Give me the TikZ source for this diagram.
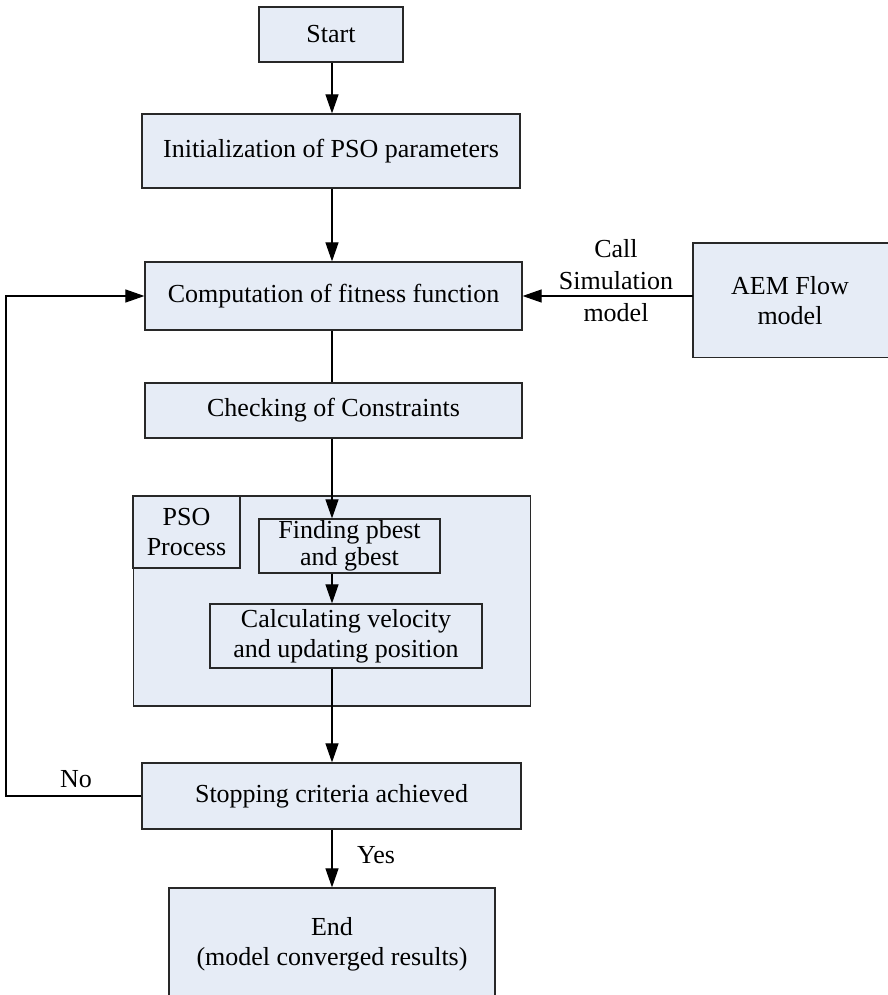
\documentclass[tikz,border=0pt]{standalone}
\usepackage{fontspec}
\setmainfont{Liberation Serif}
\usetikzlibrary{arrows.meta}
\definecolor{boxfill}{RGB}{230,236,246}
\definecolor{boxline}{RGB}{40,40,40}
\tikzset{
  flowbox/.style={draw=boxline, line width=1.2pt, fill=boxfill, align=center,
    inner sep=0pt, font=\fontsize{26}{30}\selectfont},
  link/.style={draw=black, line width=1.1pt, -{Triangle[length=19pt,width=13pt]}},
  plain/.style={draw=black, line width=1.1pt},
  lbl/.style={font=\fontsize{26}{32}\selectfont, align=center, inner sep=0pt}
}
\begin{document}
\begin{tikzpicture}[x=1pt,y=-1pt]
\useasboundingbox (0,0) rectangle (888,995);

% main column of steps
\node[flowbox, minimum width=144pt, minimum height=55pt] (start) at (331,34.5) {Start};
\node[flowbox, minimum width=378pt, minimum height=74pt] (init) at (331,151) {Initialization of PSO parameters};
\node[flowbox, minimum width=377pt, minimum height=68pt] (fit) at (333.5,296) {Computation of fitness function};
\node[flowbox, minimum width=377pt, minimum height=55pt] (check) at (333.5,410.5) {Checking of Constraints};

% external simulation model (runs past the right edge)
\path[draw=boxline, line width=1.2pt, fill=boxfill] (900,243) -- (693,243) -- (693,357.5) -- (900,357.5);
\node[lbl, font=\fontsize{26}{30}\selectfont] (aem) at (790,301) {AEM Flow\\model};
\coordinate (aemw) at (693,296);

% PSO process group
\node[flowbox, minimum width=397.5pt, minimum height=210pt] (pso) at (332,601) {};
\node[flowbox, minimum width=107pt, minimum height=72pt] (psolbl) at (186.5,532) {PSO\\Process};
\node[flowbox, minimum width=181pt, minimum height=54pt, font=\fontsize{26}{27}\selectfont] (find) at (349.5,546) {Finding pbest\\and gbest};
\node[flowbox, minimum width=272pt, minimum height=64pt] (calc) at (346,636) {Calculating velocity\\and updating position};

\node[flowbox, minimum width=379pt, minimum height=66pt] (stop) at (331.5,796) {Stopping criteria achieved};
% final box runs slightly past the bottom edge
\node[flowbox, minimum width=326pt, minimum height=112pt] (end) at (332,944) {End\\(model converged results)};

% connectors
\draw[link] (start.south -| 332,0) -- (init.north -| 332,0);
\draw[link] (init.south -| 332,0) -- (fit.north -| 332,0);
\draw[link] (aemw) -- (fit.east);
\node[lbl] (call) at (616,281) {Call\\Simulation\\model};
\draw[plain] (fit.south -| 332,0) -- (check.north -| 332,0);
\draw[link] (check.south -| 332,0) -- (find.north -| 332,0);
\draw[link] (find.south -| 332,0) -- (calc.north -| 332,0);
\draw[link] (calc.south -| 332,0) -- (stop.north -| 332,0);
\draw[link] (stop.south -| 332,0) -- (end.north -| 332,0);
\node[lbl, anchor=west] (yes) at (357,855) {Yes};

% loop back when not converged
\coordinate (lb) at (6,796);
\coordinate (lt) at (6,296);
\draw[link] (stop.west) -- (lb) -- (lt) -- (fit.west);
\node[lbl] (no) at (76,779) {No};
\end{tikzpicture}
\end{document}
